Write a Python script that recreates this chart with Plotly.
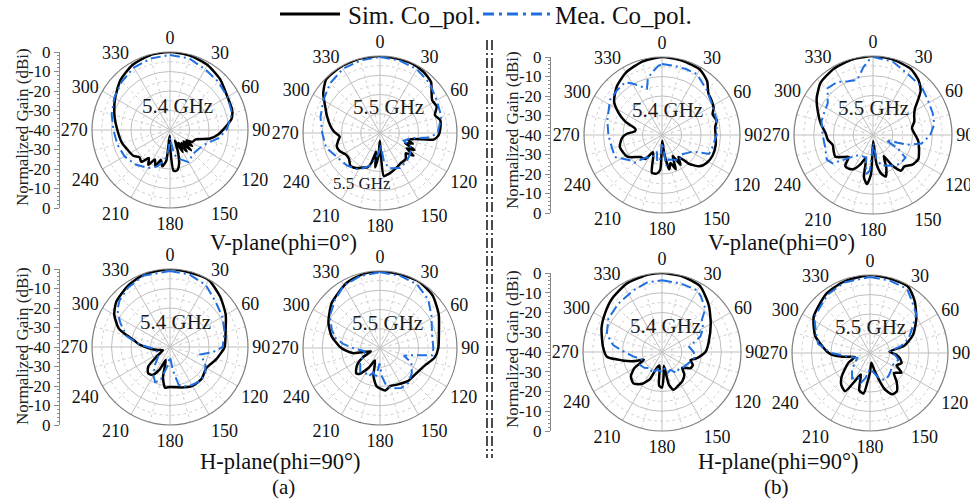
import plotly.graph_objects as go

W, H = 970, 501
SERIF = "Liberation Serif, Times New Roman, serif"
SIM_COLOR = "#000000"
MEA_COLOR = "#1f6fe0"
MEA_DASH = "10px,4px,2px,4px"
GRID_SOLID = "#bfbfbf"
GRID_DASH = "#cfcfcf"

ANGLE_TICKS = list(range(0, 360, 30))
GAIN_TICK_TEXT = ["0", "-10", "-20", "-30", "-40", "-30", "-20", "-10", "0"]
SERIES_NAMES = ["Sim. Co_pol.", "Mea. Co_pol."]

# ---- (a) V-plane, 5.4 GHz ----
va54_sim_deg = [0, 15, 30, 45, 60, 72, 80, 88, 95, 102, 110, 118, 122, 126, 130, 134, 138, 142, 146, 150,
                155, 160, 165, 170, 175, 179, 183, 187, 192, 197, 202, 207, 212, 217, 222, 228, 235, 245, 255, 270,
                285, 300, 315, 330, 345, 360]
va54_sim_db = [0, -0.5, -1.5, -3.5, -6, -6.5, -8, -12, -15, -19, -26, -27, -30, -26, -31, -25, -31, -26, -32, -27,
               -34, -28, -22, -19, -19, -30, -37, -24, -21, -24, -20, -23, -19, -22, -18, -19, -17, -16, -14.5, -13,
               -10.5, -7.5, -4, -1.5, -0.3, 0]
va54_mea_deg = [0, 15, 30, 45, 60, 75, 90, 100, 110, 120, 135, 150, 160, 170, 176, 180, 184, 190, 200, 210,
                225, 240, 255, 270, 285, 300, 315, 330, 345, 360]
va54_mea_db = [-1.5, -2, -4, -5, -6, -7, -11, -15, -20, -22, -23, -21, -24, -27, -34, -36, -30, -24, -20, -17.5,
               -15, -13, -12, -11, -9, -7, -5, -3, -2, -1.5]

# ---- (a) V-plane, 5.5 GHz ----
va55_sim_deg = [0, 15, 25, 35, 45, 52, 58, 65, 72, 78, 85, 92, 97, 100, 104, 108, 112, 116, 120, 124,
                128, 135, 145, 155, 163, 170, 175, 178, 181, 184, 188, 192, 196, 200, 206, 214, 222, 230, 238, 246,
                253, 260, 265, 272, 278, 288, 296, 305, 315, 330, 345, 360]
va55_sim_db = [0, -0.3, -0.3, -1, -2.5, -6, -8, -7.5, -10, -8, -8.5, -9.5, -12, -22, -25, -22, -26, -20, -24, -19,
               -23, -21, -21, -20, -19, -18, -17.5, -30, -36, -28, -22, -30, -24, -21, -20, -18, -17, -19, -19, -17,
               -16.5, -18, -19, -16, -14, -11, -8.3, -4, -0.5, 0, 0, 0]
va55_mea_deg = [0, 15, 30, 45, 60, 75, 90, 95, 100, 108, 115, 125, 135, 150, 165, 172, 178, 183, 190, 198,
                210, 225, 240, 255, 270, 285, 300, 315, 330, 345, 360]
va55_mea_db = [-0.5, -1, -1.7, -3.5, -6, -7, -10, -14, -24, -27, -22, -21, -20, -19, -21, -25, -34, -30, -26, -22,
               -18, -16, -14.5, -11, -10, -8, -6, -3.4, -1.5, -1, -0.5]

# ---- (b) V-plane, 5.4 GHz ----
vb54_sim_deg = [0, 15, 30, 40, 48, 55, 62, 68, 75, 82, 90, 100, 112, 122, 130, 137, 143, 148, 153, 158,
                163, 168, 173, 178, 183, 188, 195, 202, 208, 215, 225, 238, 254, 266, 272, 278, 283, 290, 297, 305,
                317, 330, 345, 360]
vb54_sim_db = [0, -0.5, -1.2, -4, -8, -9, -10, -12, -11, -12.5, -12.5, -12, -12, -13, -15, -20, -26, -22, -28, -21,
               -25, -22, -30, -37, -22, -20, -20, -28, -30, -25, -24, -19, -17.5, -19.5, -22, -26, -26, -20, -15, -10,
               -6, -3, -1, 0]
vb54_mea_deg = [0, 10, 20, 30, 45, 60, 75, 90, 105, 112, 118, 125, 135, 145, 155, 165, 172, 178, 184, 190,
                197, 205, 215, 225, 232, 245, 257, 270, 285, 304, 315, 325, 331, 342, 346, 352, 357, 360]
vb54_mea_db = [-3.6, -4, -4, -4, -7.5, -10, -11, -12, -13.5, -14, -22, -24, -26, -24, -26, -27, -24, -36, -28, -26,
               -31, -27, -26, -20, -19, -13.3, -13.5, -12.5, -11, -7.8, -7.5, -7, -10, -15, -10, -7, -4.5, -3.6]

# ---- (b) V-plane, 5.5 GHz ----
vb55_sim_deg = [0, 15, 30, 40, 47, 52, 58, 65, 72, 80, 88, 97, 108, 118, 127, 135, 142, 148, 153, 158,
                163, 168, 173, 178, 183, 187, 192, 197, 203, 210, 216, 222, 228, 234, 240, 248, 256, 264, 272, 282,
                292, 303, 315, 330, 345, 360]
vb55_sim_db = [0, -0.5, -1.5, -4, -7, -11, -15, -17, -18, -20, -19, -17, -15.5, -14, -15, -17.5, -17, -22, -28, -22,
               -18, -20, -25, -37, -20, -15, -18, -28, -24, -20, -19, -19, -23.5, -21, -18, -18.5, -19, -17, -16, -13,
               -10, -6, -2.5, -1, -0.3, 0]
vb55_mea_deg = [0, 15, 30, 45, 57, 70, 80, 90, 100, 106, 112, 118, 125, 135, 145, 155, 165, 172, 178, 185,
                190, 197, 207, 217, 225, 235, 242, 256, 270, 285, 295, 305, 316, 326, 335, 344, 352, 357, 360]
vb55_mea_db = [-0.5, -1.5, -4.5, -5.3, -7, -7.8, -8.5, -11, -15, -22, -33, -26, -20, -20, -21, -23, -24, -28, -36, -22,
               -20, -28, -28, -27, -24, -15, -13.5, -15, -14.5, -13, -12.8, -12, -7, -7.6, -10, -11, -5.3, -2, -0.5]

# ---- (a) H-plane, 5.4 GHz ----
ha54_sim_deg = [0, 15, 30, 45, 60, 75, 90, 105, 120, 135, 150, 160, 170, 180, 187, 193, 198, 205, 212, 220,
                228, 235, 245, 255, 265, 275, 281, 286, 290, 300, 310, 325, 340, 360]
ha54_sim_db = [0, -0.5, -0.3, -3.6, -7, -10.5, -12, -15.5, -18.5, -17, -17, -18, -19, -19.5, -19, -24, -33, -27, -23, -22.5,
               -25, -32, -36, -34, -30, -24, -21, -16, -12, -7, -4, -2, -0.5, 0]
ha54_mea_deg = [0, 15, 30, 45, 60, 75, 90, 97, 104, 115, 128, 138, 150, 160, 167, 173, 180, 188, 196, 203,
                210, 220, 235, 250, 265, 275, 284, 296, 305, 313, 325, 340, 360]
ha54_mea_db = [-1, -1.5, -3.3, -7, -9, -11, -13, -18, -24, -20, -17, -16.7, -17.5, -18.5, -20, -28, -35, -30, -22, -20.5,
               -23, -28, -33, -33, -31, -24, -17, -11.6, -7, -4.7, -2.7, -1, -1]

# ---- (a) H-plane, 5.5 GHz ----
ha55_sim_deg = [0, 15, 30, 45, 60, 75, 90, 100, 110, 125, 140, 155, 165, 173, 185, 193, 202, 210, 218, 223,
                230, 235, 242, 250, 259, 266, 272, 284, 296, 313, 333, 348, 360]
ha55_sim_db = [0, -0.3, 0, -1.4, -4.8, -8.3, -9.7, -11.2, -14.7, -17, -17.5, -19, -19.5, -17.8, -20, -25, -33, -28, -23, -22,
               -24, -26, -30, -35, -26, -22, -19, -14, -10.2, -5.7, -2, -0.5, 0]
ha55_mea_deg = [0, 15, 30, 45, 58, 75, 90, 98, 102, 108, 115, 128, 141, 152, 162, 170, 176, 182, 188, 195,
                202, 210, 220, 232, 245, 258, 268, 276, 283, 291, 302, 317, 330, 345, 360]
ha55_mea_db = [-0.7, -1, -1.7, -4.5, -8.5, -12, -12.3, -12.5, -22, -27, -22, -19, -16.6, -16.5, -18, -19.7, -25, -32, -24, -27,
               -24, -25, -24, -27, -30, -32, -27, -21, -16, -13.2, -9.2, -5.7, -2.5, -1.2, -0.7]

# ---- (b) H-plane, 5.4 GHz ----
hb54_sim_deg = [0, 15, 30, 45, 60, 79, 90, 100, 106, 113, 120, 128, 135, 145, 155, 163, 168, 172, 176, 180,
                185, 190, 197, 204, 212, 222, 232, 240, 247, 252, 258, 265, 275, 292, 305, 317, 333, 350, 360]
hb54_sim_db = [0, -0.3, -1.5, -6.5, -11.5, -16, -18, -22, -25, -23, -23.5, -27, -24, -22, -21, -20, -23, -33, -28, -22,
               -23, -33, -32, -25, -21, -18.5, -20, -24, -30, -25, -19.5, -12, -10, -7, -5, -3, -1, -0.2, 0]
hb54_mea_deg = [0, 15, 30, 35, 45, 51, 60, 68, 79, 90, 99, 110, 125, 135, 145, 155, 165, 175, 185, 195,
                205, 215, 228, 240, 250, 262, 270, 278, 288, 302, 318, 335, 348, 360]
hb54_mea_db = [-3.7, -4, -4, -5.7, -9, -14, -16, -19, -26, -24, -23, -25, -26.7, -28, -27, -30, -29, -32, -30, -31,
               -28, -30, -28, -27, -29, -25, -21, -15, -10.6, -8, -7, -5.6, -4, -3.7]

# ---- (b) H-plane, 5.5 GHz ----
hb55_sim_deg = [0, 15, 30, 41, 54, 67, 78, 86, 95, 102, 108, 115, 122, 130, 137, 145, 152, 158, 165, 172,
                180, 185, 189, 196, 203, 208, 213, 222, 230, 238, 246, 255, 262, 268, 272, 287, 303, 324, 340, 360]
hb55_sim_db = [0, -0.5, -0.8, -5, -10.7, -16, -22, -30, -26, -24, -23, -25, -21, -24, -20, -16, -16, -20, -30, -35,
               -30, -25, -19, -20, -28, -24, -16.6, -18, -21, -25, -28, -32, -26, -20, -17.9, -10.7, -5.6, -2.2, -1, 0]
hb55_mea_deg = [0, 15, 30, 38, 50, 61, 70, 78, 85, 95, 103, 110, 120, 130, 140, 150, 160, 170, 180, 190,
                197, 205, 215, 225, 235, 248, 262, 270, 280, 290, 303, 324, 340, 360]
hb55_mea_db = [-1, -1.5, -2, -5.4, -9, -15.6, -19, -24, -30, -27, -25, -26, -27, -26, -25, -24, -26, -30, -32, -27,
               -24, -26, -24, -27, -30, -33, -28, -20, -13, -10.5, -6, -3, -1.5, -1]

# panel placement (pixel centre, pixel radius) and the data each one shows
panels = [
    dict(cx=170, cy=130, R=78, sim=(va54_sim_deg, va54_sim_db), mea=(va54_mea_deg, va54_mea_db),
         label="5.4 GHz", lab=(7, -24), scale=(59, 22, 127)),
    dict(cx=380, cy=133, R=77, sim=(va55_sim_deg, va55_sim_db), mea=(va55_mea_deg, va55_mea_db),
         label="5.5 GHz", lab=(8, -26), scale=None),
    dict(cx=662, cy=135, R=78, sim=(vb54_sim_deg, vb54_sim_db), mea=(vb54_mea_deg, vb54_mea_db),
         label="5.4 GHz", lab=(5, -25), scale=(550, 512, 130)),
    dict(cx=873, cy=135, R=79, sim=(vb55_sim_deg, vb55_sim_db), mea=(vb55_mea_deg, vb55_mea_db),
         label="5.5 GHz", lab=(0, -27), scale=None),
    dict(cx=170, cy=347, R=78, sim=(ha54_sim_deg, ha54_sim_db), mea=(ha54_mea_deg, ha54_mea_db),
         label="5.4 GHz", lab=(5, -25), scale=(59, 22, 346)),
    dict(cx=380, cy=348, R=77, sim=(ha55_sim_deg, ha55_sim_db), mea=(ha55_mea_deg, ha55_mea_db),
         label="5.5 GHz", lab=(7, -25), scale=None),
    dict(cx=662, cy=352, R=79, sim=(hb54_sim_deg, hb54_sim_db), mea=(hb54_mea_deg, hb54_mea_db),
         label="5.4 GHz", lab=(3, -26), scale=(550, 512, 349)),
    dict(cx=870, cy=353, R=78, sim=(hb55_sim_deg, hb55_sim_db), mea=(hb55_mea_deg, hb55_mea_db),
         label="5.5 GHz", lab=(0, -26), scale=None),
]

R_MIN, R_MAX = -40, 0
SOLID_RINGS = [-30, -20, -10]
DASH_RINGS = [-35, -25, -15, -5]
DASH_SPOKES = list(range(15, 360, 30))


def px_x(x):
    return x / W


def px_y(y):
    return 1 - y / H


def text_note(text, x, y, size, color="#111", xanchor="center", angle=0):
    return dict(text=text, x=px_x(x), y=px_y(y), xref="paper", yref="paper", showarrow=False,
                xanchor=xanchor, yanchor="middle", textangle=angle,
                font=dict(family=SERIF, size=size, color=color))


fig = go.Figure()
layout = dict(
    template="none",
    width=W, height=H, margin=dict(l=0, r=0, t=0, b=0, pad=0, autoexpand=False),
    paper_bgcolor="white", plot_bgcolor="white",
    font=dict(family=SERIF, color="#111"),
    showlegend=False,
)
annotations = []
shapes = []
axis_k = 0

for i, p in enumerate(panels):
    name = "polar" if i == 0 else f"polar{i + 1}"
    cx, cy, R = p["cx"], p["cy"], p["R"]
    layout[name] = dict(
        domain=dict(x=[px_x(cx - R), px_x(cx + R)], y=[px_y(cy + R), px_y(cy - R)]),
        bgcolor="white",
        radialaxis=dict(range=[R_MIN, R_MAX], tickmode="array", tickvals=SOLID_RINGS,
                        showticklabels=False, ticks="", showline=False,
                        gridcolor=GRID_SOLID, gridwidth=1),
        angularaxis=dict(rotation=90, direction="clockwise", tickmode="array",
                         tickvals=ANGLE_TICKS, ticktext=[str(a) for a in ANGLE_TICKS],
                         ticks="", showline=True, linecolor="#7f7f7f", linewidth=1.2,
                         gridcolor=GRID_SOLID, gridwidth=1,
                         tickfont=dict(family=SERIF, size=18, color="#111")),
    )

    # dashed minor rings and spokes
    th, rr = [], []
    for ring in DASH_RINGS:
        ang = list(range(0, 361, 3))
        th += ang + [None]
        rr += [ring] * len(ang) + [None]
    for a in DASH_SPOKES:
        th += [a, a, None]
        rr += [R_MIN + 5, R_MAX, None]
    fig.add_trace(go.Scatterpolar(theta=th, r=rr, mode="lines", subplot=name,
                                  line=dict(color=GRID_DASH, width=1, dash="3px,3px"),
                                  connectgaps=False, showlegend=False, hoverinfo="skip"))

    sdeg, sdb = p["sim"]
    mdeg, mdb = p["mea"]
    fig.add_trace(go.Scatterpolar(theta=sdeg, r=sdb, mode="lines", subplot=name,
                                  name=SERIES_NAMES[0], legendgroup="sim",
                                  line=dict(color=SIM_COLOR, width=2.5, shape="spline", smoothing=0.6)))
    fig.add_trace(go.Scatterpolar(theta=mdeg, r=mdb, mode="lines", subplot=name,
                                  name=SERIES_NAMES[1], legendgroup="mea",
                                  line=dict(color=MEA_COLOR, width=2, dash=MEA_DASH)))

    dx, dy = p["lab"]
    annotations.append(text_note(p["label"], cx + dx, cy + dy, 21, color="#1a1a1a"))

    # side gain scale spanning the vertical diameter
    if p["scale"] is not None:
        ax_x, title_x, title_y = p["scale"]
        axis_k += 1
        xa = "xaxis" if axis_k == 1 else f"xaxis{axis_k}"
        ya = "yaxis" if axis_k == 1 else f"yaxis{axis_k}"
        xr = "x" if axis_k == 1 else f"x{axis_k}"
        yr = "y" if axis_k == 1 else f"y{axis_k}"
        pos = px_x(ax_x)
        layout[xa] = dict(visible=False, domain=[pos, pos + 0.005], anchor=yr, fixedrange=True)
        layout[ya] = dict(domain=[px_y(cy + R), px_y(cy - R)], range=[-40, 40], anchor="free", position=pos,
                          side="left", automargin=False, tickmode="array", tickvals=list(range(40, -41, -10)),
                          ticktext=GAIN_TICK_TEXT, ticks="outside", ticklen=5, tickcolor="#8a8a8a",
                          showline=True, linecolor="#8a8a8a", linewidth=1, showgrid=False, zeroline=False,
                          tickfont=dict(family=SERIF, size=17, color="#111"),
                          minor=dict(tickmode="linear", tick0=0, dtick=2, ticks="outside", ticklen=2.5,
                                     tickcolor="#8a8a8a"),
                          fixedrange=True)
        fig.add_trace(go.Scatter(x=[None], y=[None], xaxis=xr, yaxis=yr, showlegend=False, hoverinfo="skip"))
        annotations.append(text_note("Normalized Gain (dBi)", title_x, title_y, 17, color="#222", angle=-90))

# secondary frequency tag in the upper (a) V-plane 5.5 GHz panel
annotations.append(text_note("5.5 GHz", 362, 183, 17, color="#1a1a1a"))

annotations += [
    text_note("V-plane(phi=0°)", 283, 242, 22.5),
    text_note("V-plane(phi=0°)", 781, 242, 22.5),
    text_note("H-plane(phi=90°)", 280, 461, 22.5),
    text_note("H-plane(phi=90°)", 778, 461, 22.5),
    text_note("(a)", 283, 487, 21),
    text_note("(b)", 776, 487, 21),
]

# series key across the top: sample line followed by the series name
key_items = [(280, 340, dict(color=SIM_COLOR, width=3), 346, SERIES_NAMES[0]),
             (483, 550, dict(color=MEA_COLOR, width=3, dash="11px,5px,3px,5px"), 553, SERIES_NAMES[1])]
for x0, x1, line, tx, label in key_items:
    shapes.append(dict(type="line", xref="paper", yref="paper", x0=px_x(x0), x1=px_x(x1),
                       y0=px_y(14), y1=px_y(14), line=line))
    annotations.append(text_note(label, tx, 15, 25, xanchor="left"))

# dash-dot double divider between (a) and (b)
for x in (487, 492):
    shapes.append(dict(type="line", xref="paper", yref="paper", x0=px_x(x), x1=px_x(x),
                       y0=px_y(40), y1=px_y(458), line=dict(color="#111", width=1.5, dash="10px,3px,2px,3px")))

layout["annotations"] = annotations
layout["shapes"] = shapes
fig.update_layout(**layout)
fig.write_html("out.html")
